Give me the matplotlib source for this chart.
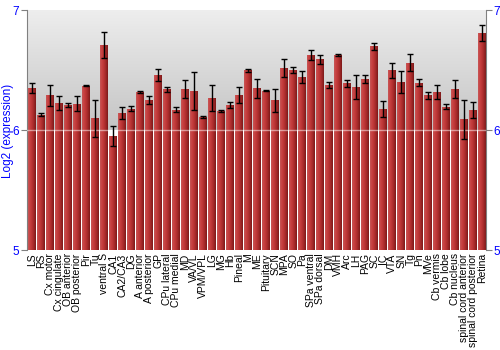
import numpy as np
import matplotlib

matplotlib.use("Agg")
import matplotlib.pyplot as plt
from matplotlib.colors import LinearSegmentedColormap

regions = [
    "LS", "RS", "Cx motor", "Cx cingulate", "OB anterior", "OB posterior", "Pir", "Tu",
    "ventral S", "CA1", "CA2/CA3", "DG", "A anterior", "A posterior", "GP", "CPu lateral",
    "CPu medial", "MD", "VA/VL", "VPM/VPL", "LG", "MG", "Hb", "Pineal", "M", "ME",
    "Pituitary", "SCN", "MPA", "SO", "Pa", "SPa ventral", "SPa dorsal", "DM", "VMH", "Arc",
    "LH", "PAG", "SC", "IC", "VTA", "SN", "Tg", "Pn", "MVe", "Cb vermis", "Cb lobe",
    "Cb nucleus", "spinal cord anterior", "spinal cord posterior", "Retina",
]
log2_expr = [
    6.35, 6.13, 6.29, 6.23, 6.21, 6.22, 6.37, 6.10,
    6.71, 5.95, 6.14, 6.18, 6.32, 6.25, 6.46, 6.34,
    6.17, 6.34, 6.325, 6.11, 6.27, 6.16, 6.21, 6.29, 6.50, 6.35,
    6.33, 6.25, 6.52, 6.50, 6.44, 6.625, 6.59, 6.375, 6.625, 6.39,
    6.36, 6.43, 6.70, 6.18, 6.50, 6.40, 6.56, 6.395, 6.29, 6.317, 6.195,
    6.34, 6.09, 6.17, 6.81,
]
sem = [
    0.042, 0.015, 0.088, 0.058, 0.014, 0.061, 0.006, 0.153,
    0.106, 0.083, 0.050, 0.022, 0.007, 0.032, 0.048, 0.018,
    0.022, 0.074, 0.160, 0.005, 0.110, 0.005, 0.022, 0.067, 0.012, 0.080,
    0.005, 0.096, 0.074, 0.028, 0.049, 0.043, 0.038, 0.025, 0.011, 0.032,
    0.096, 0.033, 0.029, 0.067, 0.062, 0.090, 0.071, 0.030, 0.029, 0.058, 0.020,
    0.075, 0.160, 0.064, 0.068,
]

plt.rcParams["font.family"] = ["Liberation Sans", "DejaVu Sans"]

fig = plt.figure(figsize=(5, 3.5), dpi=100)
ax = fig.add_axes([0.054, 0.2843, 0.918, 0.6871])
x = np.arange(len(regions))
xlim = (-0.6, len(regions) - 0.6)

# grey gradient above 6, plain white below
bg_cmap = LinearSegmentedColormap.from_list("bg", ["#c4c4c4", "#eeeeee"])
ax.imshow(np.linspace(0, 1, 256)[:, None], extent=(xlim[0], xlim[1], 6, 7),
          origin="lower", cmap=bg_cmap, aspect="auto", zorder=0)

# bars with a horizontal shading
bar_cmap = LinearSegmentedColormap.from_list(
    "bar", ["#c65656", "#c84040", "#b93434", "#a02828", "#7e1a1a"])
width = 0.88
bars = ax.bar(x, np.array(log2_expr) - 5, width=width, bottom=5,
              facecolor="none", edgecolor="none", zorder=2)
grad = np.linspace(0, 1, 32)[None, :]
for b in bars:
    x0 = b.get_x()
    im = ax.imshow(grad, extent=(x0, x0 + b.get_width(), 5, 5 + b.get_height()),
                   cmap=bar_cmap, aspect="auto", zorder=2)
    im.set_clip_path(b)

ax.axhline(6, color="white", alpha=0.5, lw=1, zorder=3)
ax.errorbar(x, log2_expr, yerr=sem, fmt="none", ecolor="black", elinewidth=1,
            capsize=2.5, capthick=1, zorder=4)

ax.set_xlim(*xlim)
ax.set_ylim(5, 7)

ax.set_xticks(x)
ax.set_xticklabels(regions, rotation=90, fontsize=7.5)
ax.tick_params(axis="x", length=0, pad=2)
ax.set_yticks([5, 6, 7])
ax.tick_params(axis="y", colors="#808080", labelcolor="blue", labelsize=8.5,
               length=4, right=True, labelright=True, pad=1.5)
fig.text(8 / 500, 0.625, "Log2 (expression)", color="blue", fontsize=8.5,
         rotation=90, ha="center", va="center")

for side in ("top", "bottom"):
    ax.spines[side].set_visible(False)
for side in ("left", "right"):
    ax.spines[side].set_color("#808080")

fig.savefig("out.png", dpi=100)
plt.close(fig)
